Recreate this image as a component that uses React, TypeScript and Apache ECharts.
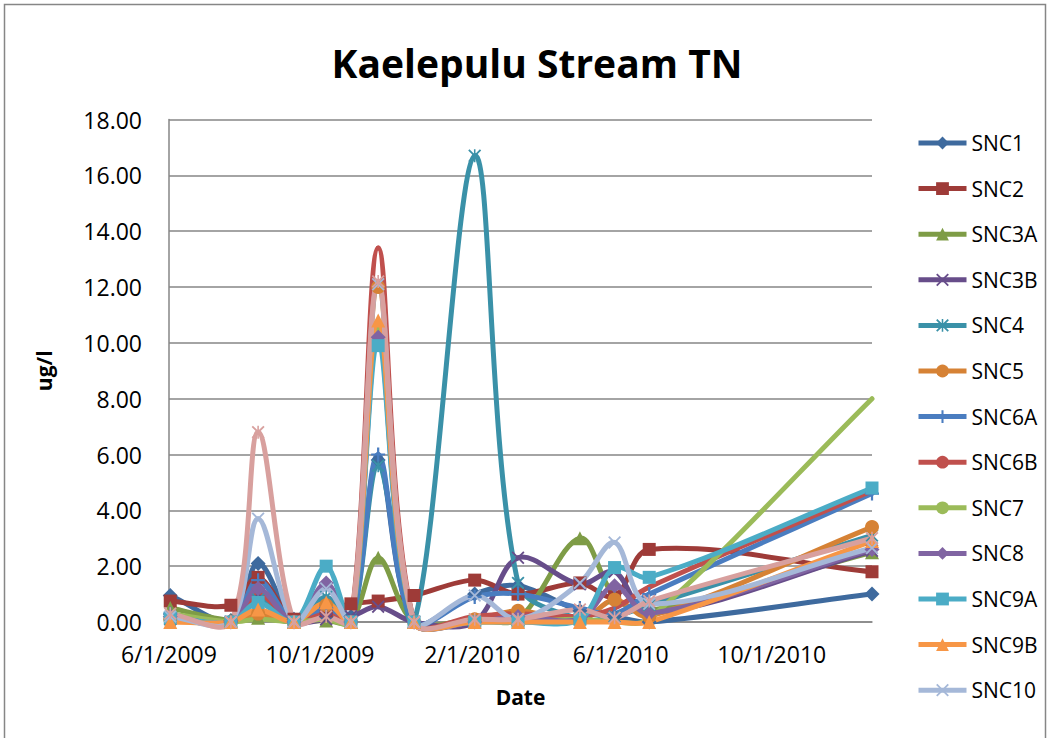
import React, { useEffect, useRef } from 'react';
import * as echarts from 'echarts';

// Sampling dates (x values)
const sampleDates = [
  '2009-06-02', '2009-07-21', '2009-08-12', '2009-09-10', '2009-10-06', '2009-10-26', '2009-11-17',
  '2009-12-16', '2010-02-03', '2010-03-10', '2010-04-29', '2010-05-27', '2010-06-24', '2010-12-21',
];
const tickDates = ['2009-06-01', '2009-10-01', '2010-02-01', '2010-06-01', '2010-10-01'];

const seriesNames = ['SNC1', 'SNC2', 'SNC3A', 'SNC3B', 'SNC4', 'SNC5', 'SNC6A', 'SNC6B', 'SNC7', 'SNC8', 'SNC9A', 'SNC9B', 'SNC10', 'SNC11'];

const snc1 = [0.95, 0.05, 2.1, 0.1, 0.2, 0.2, 5.8, 0.0, 1.0, 1.3, 0.4, 0.2, 0.0, 1.0];
const snc2 = [0.75, 0.6, 1.6, 0.1, 0.4, 0.65, 0.75, 0.95, 1.5, 1.0, 1.4, 0.9, 2.6, 1.8];
const snc3a = [0.5, 0.05, 0.15, 0.0, 0.05, 0.0, 2.3, 0.0, 0.1, 0.1, 3.0, 0.9, 0.4, 2.5];
const snc3b = [0.1, 0.0, 1.0, 0.0, 0.1, 0.2, 0.55, 0.0, 0.0, 2.3, 1.35, 1.8, 0.3, 2.55];
const snc4 = [0.1, 0.0, 0.8, 0.0, 0.9, 0.0, 5.6, 0.0, 16.7, 1.4, 0.1, 0.2, 0.6, 3.1];
const snc5 = [0.1, 0.0, 0.3, 0.0, 0.6, 0.0, 12.0, 0.0, 0.1, 0.4, 0.05, 0.8, 0.2, 3.4];
const snc6a = [0.3, 0.0, 1.5, 0.0, 0.5, 0.0, 6.0, 0.0, 0.9, 1.0, 0.5, 0.3, 1.0, 4.6];
const snc6b = [0.1, 0.0, 1.0, 0.0, 0.3, 0.0, 13.4, 0.0, 0.2, 0.3, 0.2, 0.5, 1.25, 4.7];
const snc7 = [0.3, 0.0, 0.1, 0.0, 0.1, 0.0, 10.5, 0.0, 0.0, 0.0, 0.1, 0.0, 0.1, 8.0];
const snc8 = [0.2, 0.0, 1.2, 0.0, 1.4, 0.0, 10.2, 0.0, 0.0, 0.2, 0.1, 1.3, 0.3, 2.6];
const snc9a = [0.15, 0.0, 0.7, 0.0, 2.0, 0.0, 9.9, 0.0, 0.0, 0.0, 0.1, 1.95, 1.6, 4.8];
const snc9b = [0.0, 0.0, 0.45, 0.0, 0.7, 0.0, 10.8, 0.0, 0.0, 0.0, 0.0, 0.0, 0.0, 2.9];
const snc10 = [0.2, 0.0, 3.7, 0.0, 1.2, 0.0, 12.1, 0.0, 0.95, 0.1, 1.4, 2.85, 0.65, 2.65];
const snc11 = [0.3, 0.0, 6.8, 0.0, 0.2, 0.0, 12.2, 0.0, 0.1, 0.1, 0.45, 0.15, 0.75, 3.0];

const seriesValues = [snc1, snc2, snc3a, snc3b, snc4, snc5, snc6a, snc6b, snc7, snc8, snc9a, snc9b, snc10, snc11];

const colors = [
  '#3E6A9E', '#9E3B38', '#7E9C46', '#674D8A', '#3A91A8', '#D68235', '#4A7DC0',
  '#C0504D', '#9BBB59', '#8064A2', '#4BACC6', '#F79646', '#A5B8D8', '#D8A09E',
];

const X_PATH = 'path://M1,0L5,4L9,0L10,1L6,5L10,9L9,10L5,6L1,10L0,9L4,5L0,1Z';
const STAR_PATH = 'path://M1,0L5,4L9,0L10,1L6,5L10,9L9,10L5,6L1,10L0,9L4,5L0,1ZM4.4,0L5.6,0L5.6,10L4.4,10Z';
const PLUS_PATH = 'path://M4.2,0L5.8,0L5.8,4.2L10,4.2L10,5.8L5.8,5.8L5.8,10L4.2,10L4.2,5.8L0,5.8L0,4.2L4.2,4.2Z';

const symbols = [
  'diamond', 'rect', 'triangle', X_PATH, STAR_PATH, 'circle', PLUS_PATH,
  'none', 'none', 'diamond', 'rect', 'triangle', X_PATH, STAR_PATH,
];
const symbolSizes = [15, 13, 14, 13, 13, 14, 14, 0, 0, 15, 13, 14, 13, 13];

const FONT = '"Open Sans", "Liberation Sans", sans-serif';
const LINE_W = 5;
const TENSION = 1 / 3;

const toTime = (s: string) => {
  const [y, m, d] = s.split('-').map(Number);
  return new Date(y, m - 1, d).getTime();
};

export default function App() {
  const ref = useRef<HTMLDivElement>(null);

  useEffect(() => {
    document.body.style.margin = '0';
    if (!ref.current) return;
    const chart = echarts.init(ref.current, undefined, { renderer: 'svg' });

    const xs = sampleDates.map(toTime);
    const n = xs.length;
    const dist = (a: number[], b: number[]) => Math.hypot(a[0] - b[0], a[1] - b[1]);

    const series: any[] = [];
    seriesNames.forEach((name, si) => {
      const vals = seriesValues[si];
      const data = xs.map((x, i) => [x, vals[i]]);
      // Smoothed line: distance-weighted cardinal Bezier segments through the data points
      series.push({
        name: name + ' line',
        type: 'custom',
        silent: true,
        clip: false,
        data,
        encode: { x: 0, y: 1 },
        renderItem: (params: any, api: any) => {
          const i = params.dataIndex;
          if (i >= n - 1) return null;
          const P = (j: number) => {
            const k = Math.max(0, Math.min(n - 1, j));
            return api.coord([xs[k], vals[k]]);
          };
          const p0 = P(i - 1);
          const p1 = P(i);
          const p2 = P(i + 1);
          const p3 = P(i + 2);
          const d01 = dist(p0, p1);
          const d12 = dist(p1, p2);
          const d23 = dist(p2, p3);
          const r1 = d01 + d12 > 0 ? d12 / (d01 + d12) : 0;
          const r2 = d12 + d23 > 0 ? d12 / (d12 + d23) : 0;
          return {
            type: 'bezierCurve',
            shape: {
              x1: p1[0],
              y1: p1[1],
              cpx1: p1[0] + (p2[0] - p0[0]) * TENSION * r1,
              cpy1: p1[1] + (p2[1] - p0[1]) * TENSION * r1,
              cpx2: p2[0] - (p3[0] - p1[0]) * TENSION * r2,
              cpy2: p2[1] - (p3[1] - p1[1]) * TENSION * r2,
              x2: p2[0],
              y2: p2[1],
            },
            style: { stroke: colors[si], lineWidth: LINE_W, fill: null, lineCap: 'round' },
          };
        },
      });
      // Markers (and legend entry)
      series.push({
        name,
        type: 'line',
        data,
        smooth: false,
        clip: false,
        symbol: symbols[si],
        symbolSize: symbolSizes[si],
        showSymbol: symbols[si] !== 'none',
        lineStyle: { width: LINE_W, color: colors[si], opacity: 0 },
        itemStyle: { color: colors[si] },
        emphasis: { disabled: true },
      });
    });

    chart.setOption({
      animation: false,
      backgroundColor: '#ffffff',
      graphic: [
        {
          type: 'rect',
          shape: { x: 4.5, y: 4.5, width: 1041, height: 760 },
          style: { fill: 'none', stroke: '#868686', lineWidth: 1.5 },
          silent: true,
        },
        {
          type: 'text',
          x: 537,
          y: 62,
          style: {
            text: 'Kaelepulu Stream TN',
            font: `bold 39px ${FONT}`,
            fill: '#000',
            textAlign: 'center',
            textVerticalAlign: 'middle',
          },
        },
      ],
      grid: { left: 169, top: 119.5, width: 703, height: 502.5, containLabel: false },
      legend: {
        orient: 'vertical',
        left: 911,
        top: 126,
        itemWidth: 48,
        itemHeight: 16,
        itemGap: 21.6,
        data: seriesNames.slice(0, 13),
        lineStyle: { width: LINE_W, opacity: 1 },
        textStyle: { fontFamily: FONT, fontSize: 21, color: '#000', lineHeight: 24 },
      },
      xAxis: {
        type: 'value',
        min: toTime('2009-06-01'),
        max: toTime('2010-12-21'),
        name: 'Date',
        nameLocation: 'middle',
        nameGap: 64,
        nameTextStyle: { fontFamily: FONT, fontSize: 21, fontWeight: 'bold', color: '#000' },
        axisLine: { show: true, lineStyle: { color: '#868686', width: 1.5 } },
        axisTick: { show: false },
        splitLine: { show: false },
        axisLabel: {
          customValues: tickDates.map(toTime),
          formatter: (v: number) => {
            const d = new Date(v);
            return `${d.getMonth() + 1}/${d.getDate()}/${d.getFullYear()}`;
          },
          fontFamily: FONT,
          fontSize: 23,
          color: '#000',
          margin: 20,
        },
      },
      yAxis: {
        type: 'value',
        min: 0,
        max: 18,
        interval: 2,
        name: 'ug/l',
        nameLocation: 'middle',
        nameRotate: 90,
        nameGap: 115,
        nameTextStyle: { fontFamily: FONT, fontSize: 21, fontWeight: 'bold', color: '#000' },
        axisLine: { show: true, lineStyle: { color: '#868686', width: 1.5 } },
        axisTick: { show: false },
        splitLine: { show: true, lineStyle: { color: '#868686', width: 1.5 } },
        axisLabel: {
          formatter: (v: number) => v.toFixed(2),
          fontFamily: FONT,
          fontSize: 23,
          color: '#000',
          margin: 27,
        },
      },
      series,
    });

    return () => chart.dispose();
  }, []);

  return <div ref={ref} style={{ width: 1050, height: 738 }} />;
}
